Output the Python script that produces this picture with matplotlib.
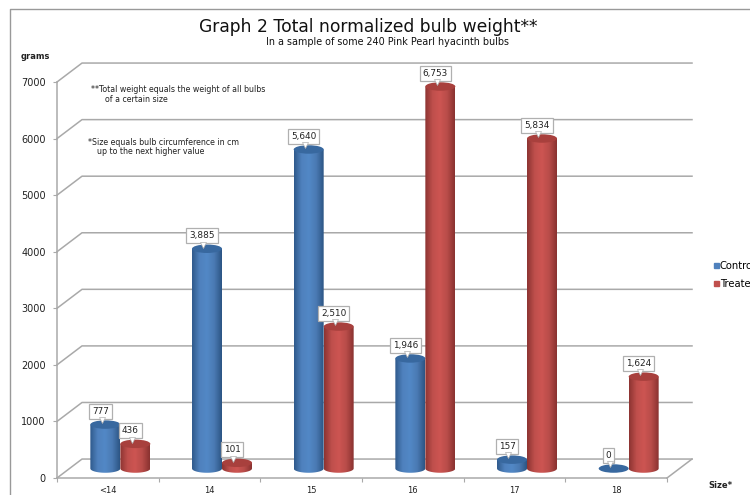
import numpy as np
import matplotlib
matplotlib.use("Agg")
import matplotlib.pyplot as plt
from matplotlib.patches import Ellipse, Polygon, Patch
from matplotlib.colors import LinearSegmentedColormap

sizes = ["<14", "14", "15", "16", "17", "18"]
control = [777, 3885, 5640, 1946, 157, 0]
treated = [436, 101, 2510, 6753, 5834, 1624]
control_labels = ["777", "3,885", "5,640", "1,946", "157", "0"]
treated_labels = ["436", "101", "2,510", "6,753", "5,834", "1,624"]
yticks = [0, 1000, 2000, 3000, 4000, 5000, 6000, 7000]

W, H = 750, 495
plt.rcParams['font.family'] = ['DejaVu Sans']

# 3d look: the back wall sits up and right of the front axis
depth_x = 0.246
depth_y = 335
bar_w = 0.295
ell_h = 150
grid_col = "#a9a9a9"
text_col = "#222222"


def px(x, y):
    return x / W, 1 - y / H


def cylinder(ax, cx, val, cols, top_col):
    base = depth_y / 2
    top = base + val
    x0, x1 = cx - bar_w / 2, cx + bar_w / 2
    z = 3 + cx * 0.01
    if val > 0:
        t = np.linspace(np.pi, 2 * np.pi, 30)
        xs = np.r_[cx + bar_w / 2 * np.cos(t), x1, x0]
        ys = np.r_[base + ell_h / 2 * np.sin(t), top, top]
        cmap = LinearSegmentedColormap.from_list("c", cols)
        im = ax.imshow(np.linspace(0, 1, 64).reshape(1, -1), cmap=cmap, aspect="auto",
                       extent=(x0, x1, base - ell_h, top), zorder=z)
        body = Polygon(np.c_[xs, ys], closed=True, transform=ax.transData, facecolor="none", edgecolor="none")
        ax.add_patch(body)
        im.set_clip_path(body)
    ax.add_patch(Ellipse((cx, top), bar_w, ell_h, facecolor=top_col, edgecolor="none", zorder=z + 0.001, clip_on=False))


def label(ax, cx, val, txt):
    top = depth_y / 2 + val
    ax.annotate(txt, xy=(cx, top), xytext=(-3.6, 9.5), textcoords="offset points", ha="center", va="center",
                fontsize=6.4, color=text_col, zorder=10, annotation_clip=False,
                bbox=dict(boxstyle="square,pad=0.32", fc="white", ec="#b0b0b0", lw=0.9))
    # little pointer from the box down to the bar
    ax.plot([cx - 0.035], [top + 75], marker="v", ms=5, mfc="white", mec="#b0b0b0", mew=0.5, clip_on=False, zorder=11)


fig = plt.figure(figsize=(W / 100, H / 100), dpi=100)
fig.patch.set_facecolor("white")

# picture frame
fig.add_artist(plt.Line2D([10 / W, 10 / W, 1], [0, 1 - 9 / H, 1 - 9 / H], color="#999999", lw=1))

ax = fig.add_axes([57 / W, 1 - 478 / H, 610 / W, 396 / H])
ax.patch.set_alpha(0)

for v in yticks:
    ax.plot([0, depth_x, 6 + depth_x], [v, v + depth_y, v + depth_y], color=grid_col, lw=1.1, clip_on=False, zorder=1)
ax.plot([6, 6 + depth_x], [0, depth_y], color=grid_col, lw=1.1, clip_on=False, zorder=1)

blue = ["#2f5a8c", "#4f81bd", "#5288c6", "#4a7ab3", "#2c5585"]
red = ["#8d3432", "#bf4f4c", "#cd5552", "#b84c49", "#8a3230"]
for i in range(len(sizes)):
    mid = i + 0.5 + depth_x / 2
    cylinder(ax, mid - bar_w / 2, control[i], blue, "#38689f")
    cylinder(ax, mid + bar_w / 2, treated[i], red, "#a8403d")
for i in range(len(sizes)):
    mid = i + 0.5 + depth_x / 2
    label(ax, mid - bar_w / 2, control[i], control_labels[i])
    label(ax, mid + bar_w / 2, treated[i], treated_labels[i])

ax.set_xlim(0, 6)
ax.set_ylim(0, 7000)
for s in ["top", "right"]:
    ax.spines[s].set_visible(False)
for s in ["left", "bottom"]:
    ax.spines[s].set_color(grid_col)
    ax.spines[s].set_linewidth(1.1)
ax.set_yticks(yticks)
ax.set_yticklabels([str(v) for v in yticks], fontsize=7, color=text_col)
ax.set_xticks(range(7))
ax.set_xticklabels([])
ax.set_xticks(np.arange(6) + 0.5, sizes, minor=True, fontsize=6, color=text_col)
ax.tick_params(axis="x", which="minor", length=0, pad=6)
ax.tick_params(axis="both", which="major", length=3, color=grid_col, pad=5)

fig.text(*px(368, 27), "Graph 2 Total normalized bulb weight**", fontsize=12.3, ha="center", va="center", color="#111111")
fig.text(*px(387, 42), "In a sample of some 240 Pink Pearl hyacinth bulbs", fontsize=6.9, ha="center", va="center", color="#111111")
fig.text(*px(21, 56), "grams", fontsize=6, ha="left", va="center", fontweight="bold", color=text_col)
fig.text(*px(708, 485), "Size*", fontsize=6, ha="left", va="center", fontweight="bold", color=text_col)
fig.text(*px(91, 89), "**Total weight equals the weight of all bulbs", fontsize=5.7, va="center", color=text_col)
fig.text(*px(105, 99), "of a certain size", fontsize=5.7, va="center", color=text_col)
fig.text(*px(88, 142), "*Size equals bulb circumference in cm", fontsize=5.7, va="center", color=text_col)
fig.text(*px(97, 152), "up to the next higher value", fontsize=5.7, va="center", color=text_col)

handles = [Patch(color="#4f81bd", label="Control"), Patch(color="#c0504d", label="Treated")]
fig.legend(handles=handles, loc="center left", bbox_to_anchor=px(714, 275), frameon=False, fontsize=7.2,
           handlelength=0.5, handleheight=0.5, handletextpad=0.1, labelspacing=0.8, borderpad=0, borderaxespad=0)

fig.savefig("out.png", dpi=100)
